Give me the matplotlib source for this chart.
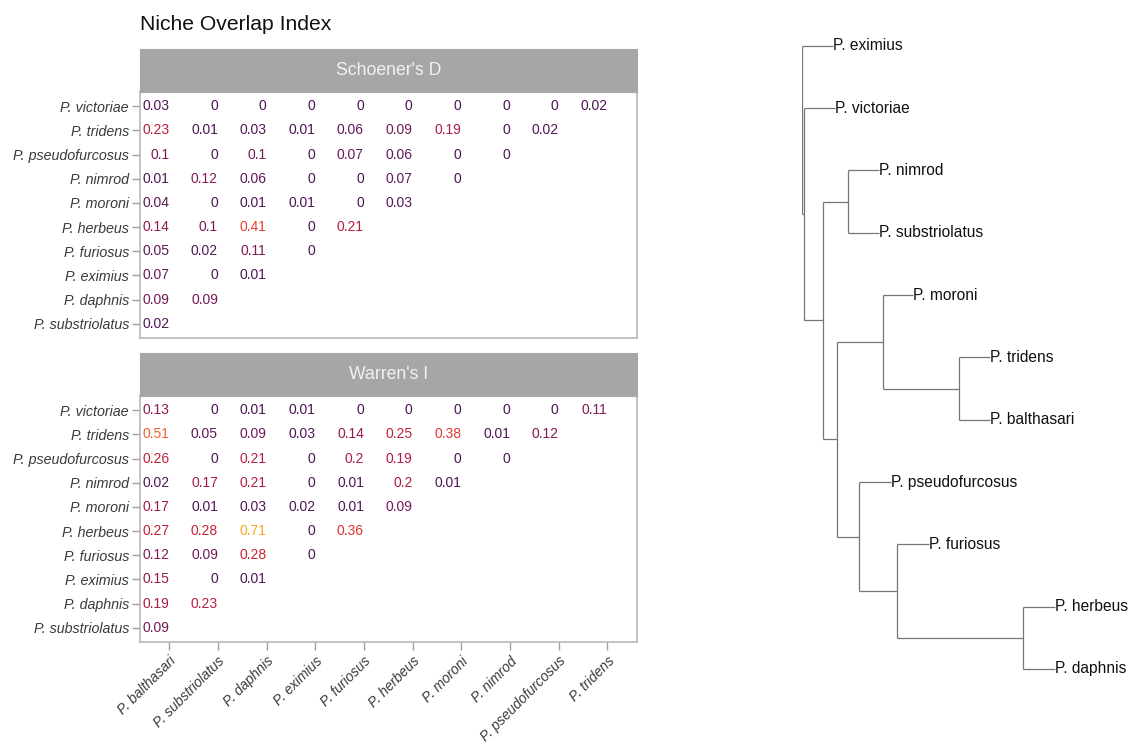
import matplotlib as mpl
mpl.use('Agg')
import matplotlib.pyplot as plt
from matplotlib.colors import LinearSegmentedColormap, Normalize
import numpy as np

plt.rcParams['font.family'] = ['Liberation Sans', 'DejaVu Sans']

# species on each axis of the overlap table
row_species = ["P. victoriae", "P. tridens", "P. pseudofurcosus", "P. nimrod", "P. moroni",
               "P. herbeus", "P. furiosus", "P. eximius", "P. daphnis", "P. substriolatus"]
col_species = ["P. balthasari", "P. substriolatus", "P. daphnis", "P. eximius", "P. furiosus",
               "P. herbeus", "P. moroni", "P. nimrod", "P. pseudofurcosus", "P. tridens"]

# Schoener's D, one list per row (top to bottom)
schoener_d = [
    [0.03, 0, 0, 0, 0, 0, 0, 0, 0, 0.02],
    [0.23, 0.01, 0.03, 0.01, 0.06, 0.09, 0.19, 0, 0.02],
    [0.1, 0, 0.1, 0, 0.07, 0.06, 0, 0],
    [0.01, 0.12, 0.06, 0, 0, 0.07, 0],
    [0.04, 0, 0.01, 0.01, 0, 0.03],
    [0.14, 0.1, 0.41, 0, 0.21],
    [0.05, 0.02, 0.11, 0],
    [0.07, 0, 0.01],
    [0.09, 0.09],
    [0.02],
]

# Warren's I
warren_i = [
    [0.13, 0, 0.01, 0.01, 0, 0, 0, 0, 0, 0.11],
    [0.51, 0.05, 0.09, 0.03, 0.14, 0.25, 0.38, 0.01, 0.12],
    [0.26, 0, 0.21, 0, 0.2, 0.19, 0, 0],
    [0.02, 0.17, 0.21, 0, 0.01, 0.2, 0.01],
    [0.17, 0.01, 0.03, 0.02, 0.01, 0.09],
    [0.27, 0.28, 0.71, 0, 0.36],
    [0.12, 0.09, 0.28, 0],
    [0.15, 0, 0.01],
    [0.19, 0.23],
    [0.09],
]

# tree: node name, parent, branch length
tree_nodes = ["root", "A", "P. eximius", "P. victoriae", "B", "C", "P. nimrod", "P. substriolatus",
              "D", "E", "P. moroni", "G", "P. tridens", "P. balthasari", "F", "P. pseudofurcosus",
              "H", "P. furiosus", "I", "P. herbeus", "P. daphnis"]
tree_parents = [None, "root", "root", "A", "A", "B", "C", "C",
                "B", "D", "E", "E", "G", "G", "D", "F",
                "F", "H", "H", "I", "I"]
branch_lengths = [0, 0.026, 0.316, 0.307, 0.184, 0.256, 0.31, 0.31,
                  0.14, 0.46, 0.306, 0.766, 0.307, 0.307, 0.226, 0.314,
                  0.38, 0.317, 1.26, 0.317, 0.317]
tip_order = ["P. eximius", "P. victoriae", "P. nimrod", "P. substriolatus", "P. moroni",
             "P. tridens", "P. balthasari", "P. pseudofurcosus", "P. furiosus",
             "P. herbeus", "P. daphnis"]

# colour scale for the overlap values (purple -> red -> amber)
vmax = 0.71
scale_stops = [0, 0.05, 0.1, 0.14, 0.2, 0.28, 0.41, 0.51, 0.71]
scale_colors = ["#4A1454", "#5C1858", "#781A58", "#931B50", "#B21C40", "#C92336",
                "#E4402E", "#F0602A", "#F5A623"]
cmap = LinearSegmentedColormap.from_list(
    "overlap", [(s / vmax, c) for s, c in zip(scale_stops, scale_colors)])
norm = Normalize(0, vmax)

W, H = 1129, 744
fig = plt.figure(figsize=(W / 100, H / 100), dpi=100)

def fx(px):
    return px / W

def fy(py):
    return 1 - py / H

border = "#B3B3B3"
label_col = "#3A3A3A"

def draw_panel(values, top, bottom, strip_top, title, show_x):
    ax = fig.add_axes([fx(140), fy(bottom), fx(636.5 - 140), (bottom - top) / H])
    n = len(row_species)
    for r, row in enumerate(values):
        for c, v in enumerate(row):
            ax.text(c + 1, n - r, f"{v:g}", ha="right", va="center",
                    fontsize=10, color=cmap(norm(v)))
    ax.set_xlim(0.4, 10.6)
    ax.set_ylim(0.4, 10.6)
    ax.set_yticks(np.arange(n, 0, -1))
    ax.set_yticklabels(row_species, fontsize=10.3, style="italic", color=label_col)
    ax.set_xticks(np.arange(1, len(col_species) + 1))
    if show_x:
        ax.set_xticklabels(col_species, fontsize=10, style="italic", color=label_col,
                           rotation=45, ha="right", va="top", rotation_mode="anchor")
        ax.tick_params(axis="x", length=5.5, width=1, color="#A0A0A0", pad=3)
    else:
        ax.tick_params(axis="x", length=0, labelbottom=False)
    ax.tick_params(axis="y", length=6, width=1, color="#A0A0A0", pad=2)
    for s in ax.spines.values():
        s.set_color(border)
        s.set_linewidth(1.1)

    strip = fig.add_axes([fx(140), fy(top), fx(636.5 - 140), (top - strip_top) / H])
    strip.set_facecolor("#A6A6A6")
    strip.set_xticks([])
    strip.set_yticks([])
    for s in strip.spines.values():
        s.set_color("#A6A6A6")
    strip.text(0.5, 0.5, title, ha="center", va="center", fontsize=12.7,
               color="#F2F2F2", transform=strip.transAxes)

draw_panel(schoener_d, 91.7, 338.3, 49.3, "Schoener's D", False)
draw_panel(warren_i, 395.7, 642.3, 353.3, "Warren's I", True)

fig.text(fx(140), fy(29.5), "Niche Overlap Index", fontsize=15.2, ha="left",
         va="baseline", color="#111111")

# tree
parent_of = dict(zip(tree_nodes, tree_parents))
blen = dict(zip(tree_nodes, branch_lengths))
depth = {}
for name in tree_nodes:
    p = parent_of[name]
    depth[name] = 0 if p is None else depth[p] + blen[name]

ypos = {name: i for i, name in enumerate(tip_order)}
children = {name: [n for n in tree_nodes if parent_of[n] == name] for name in tree_nodes}

def node_y(name):
    if name not in ypos:
        kids = [node_y(k) for k in children[name]]
        ypos[name] = (min(kids) + max(kids)) / 2
    return ypos[name]

tax = fig.add_axes([fx(801.7), 0, 1 - fx(801.7), 1])
tax.set_xlim(0, (W - 801.7) / 100)
tax.set_ylim((H - 45.7) / 62.33, -45.7 / 62.33)
tax.axis("off")
line_col = "#767676"
for name in tree_nodes:
    y = node_y(name)
    p = parent_of[name]
    if p is not None:
        tax.plot([depth[p], depth[name]], [y, y], color=line_col, lw=0.9,
                 solid_capstyle="butt")
    kids = children[name]
    if kids:
        ys = [node_y(k) for k in kids]
        tax.plot([depth[name], depth[name]], [min(ys), max(ys)], color=line_col, lw=0.9,
                 solid_capstyle="butt")
    else:
        tax.text(depth[name], y, name, ha="left", va="center", fontsize=11.2,
                 color="#111111")

fig.savefig("out.png", dpi=100)
